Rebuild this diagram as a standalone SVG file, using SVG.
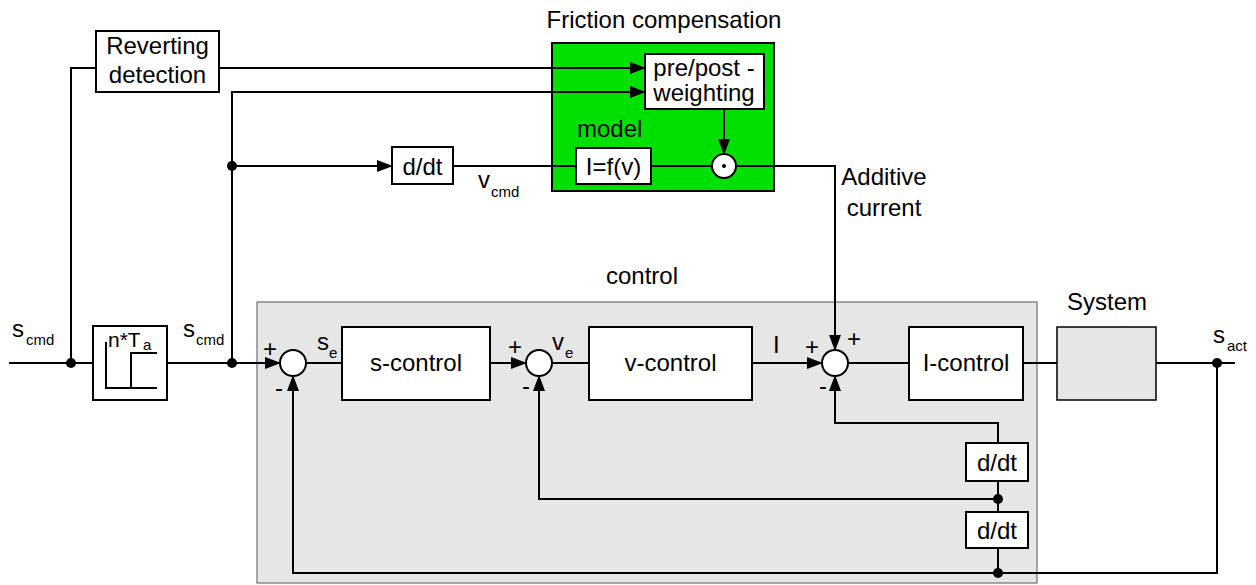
<svg xmlns="http://www.w3.org/2000/svg" width="1256" height="585" viewBox="0 0 1256 585">
<defs>
<marker id="arr" markerWidth="16" markerHeight="12" refX="15" refY="6" orient="auto" markerUnits="userSpaceOnUse"><path d="M0,0 L16,6 L0,12 z" fill="#000"/></marker>
<style>
text{font-family:"Liberation Sans",Arial,sans-serif;font-size:24px;fill:#000}
.sub{font-size:15px}
.c{text-anchor:middle}
.box{fill:#fff;stroke:#000;stroke-width:2}
.sum{fill:#fff;stroke:#000;stroke-width:2}
.ln{fill:none;stroke:#000;stroke-width:2}
.dot{fill:#000}
</style>
</defs>
<rect width="1256" height="585" fill="#fff"/>

<g id="control-area">
<rect x="257" y="302" width="780" height="281" fill="#e6e6e6" stroke="#6f6f6f" stroke-width="1.2"/>
<text x="642" y="284" class="c">control</text>
</g>

<g id="friction-compensation">
<rect x="552" y="43" width="222" height="148" fill="#00e000" stroke="#000" stroke-width="2"/>
<text x="664" y="28" class="c">Friction compensation</text>
<text x="577" y="137">model</text>
</g>

<g id="connectors">
<path class="ln" d="M9,363 H93"/>
<path class="ln" d="M167,363 H280" marker-end="url(#arr)"/>
<path class="ln" d="M306,363 H342"/>
<path class="ln" d="M490,363 H526" marker-end="url(#arr)"/>
<path class="ln" d="M552,363 H589"/>
<path class="ln" d="M752,363 H822" marker-end="url(#arr)"/>
<path class="ln" d="M848,363 H909"/>
<path class="ln" d="M1023,363 H1057"/>
<path class="ln" d="M1156,363 H1235"/>
<path class="ln" d="M1217,363 V573 H293 V376" marker-end="url(#arr)"/>
<path class="ln" d="M998,573 V548"/>
<path class="ln" d="M998,512 V481"/>
<path class="ln" d="M998,499 H539 V376" marker-end="url(#arr)"/>
<path class="ln" d="M998,443 V423 H835 V376" marker-end="url(#arr)"/>
<path class="ln" d="M71,363 V68 H96"/>
<path class="ln" d="M219,68 H645" marker-end="url(#arr)"/>
<path class="ln" d="M232,363 V92 H645" marker-end="url(#arr)"/>
<path class="ln" d="M232,166 H392" marker-end="url(#arr)"/>
<path class="ln" d="M453,166 H576"/>
<path class="ln" d="M651,166 H712"/>
<path class="ln" d="M724,109 V154" marker-end="url(#arr)"/>
<path class="ln" d="M736,166 H835 V350" marker-end="url(#arr)"/>
<circle class="dot" cx="71" cy="363" r="5"/>
<circle class="dot" cx="232" cy="363" r="5"/>
<circle class="dot" cx="232" cy="166" r="5"/>
<circle class="dot" cx="1217" cy="363" r="5"/>
<circle class="dot" cx="998" cy="573" r="5"/>
<circle class="dot" cx="998" cy="499" r="5"/>
</g>

<g id="reverting-detection">
<rect class="box" x="96" y="31" width="123" height="61"/>
<text x="157.5" y="54" class="c">Reverting</text>
<text x="157.5" y="83" class="c">detection</text>
</g>

<g id="pre-post-weighting">
<rect class="box" x="645" y="54" width="119" height="55"/>
<text x="704" y="76" class="c">pre/post -</text>
<text x="704" y="101" class="c">weighting</text>
</g>

<g id="model-ifv">
<rect class="box" x="576" y="148" width="75" height="36"/>
<text x="613.5" y="175" class="c">I=f(v)</text>
</g>

<g id="multiply">
<circle class="sum" cx="724" cy="166" r="12"/>
<circle class="dot" cx="724" cy="166" r="2"/>
</g>

<g id="ddt-cmd">
<rect class="box" x="392" y="147" width="61" height="37"/>
<text x="422.5" y="175" class="c">d/dt</text>
</g>

<g id="labels">
<text x="478" y="188">v</text><text x="491" y="197" class="sub">cmd</text>
<text x="884" y="185" class="c">Additive</text>
<text x="884" y="216" class="c">current</text>
<text x="12" y="337">s</text><text x="26" y="345" class="sub">cmd</text>
<text x="183" y="337">s</text><text x="196" y="345" class="sub">cmd</text>
<text x="1213" y="343">s</text><text x="1227" y="351" class="sub">act</text>
<text x="317" y="350">s</text><text x="329" y="358" class="sub">e</text>
<text x="552" y="350">v</text><text x="565" y="358" class="sub">e</text>
<text x="773" y="353">I</text>
<text x="270" y="357" class="c">+</text>
<text x="279" y="396" class="c">-</text>
<text x="515" y="355" class="c">+</text>
<text x="526" y="394" class="c">-</text>
<text x="812" y="355" class="c">+</text>
<text x="854" y="347" class="c">+</text>
<text x="823" y="394" class="c">-</text>
<text x="1107" y="310" class="c">System</text>
</g>

<g id="delay">
<rect class="box" x="93" y="326" width="74" height="74"/>
<path class="ln" d="M106,342 V388 H157 M131,388 V353 H157"/>
<text x="108" y="347" style="font-size:21px">n*T</text><text x="143" y="350" class="sub">a</text>
</g>

<g id="sum1"><circle class="sum" cx="293" cy="363" r="13"/></g>
<g id="s-control">
<rect class="box" x="342" y="327" width="148" height="73"/>
<text x="416" y="371" class="c">s-control</text>
</g>
<g id="sum2"><circle class="sum" cx="539" cy="363" r="13"/></g>
<g id="v-control">
<rect class="box" x="589" y="327" width="163" height="73"/>
<text x="670.5" y="371" class="c">v-control</text>
</g>
<g id="sum3"><circle class="sum" cx="835" cy="363" r="13"/></g>
<g id="i-control">
<rect class="box" x="909" y="327" width="114" height="73"/>
<text x="966" y="371" class="c">I-control</text>
</g>
<g id="system">
<rect x="1057" y="327" width="99" height="73" fill="#e6e6e6" stroke="#000" stroke-width="1.5"/>
</g>
<g id="ddt-1">
<rect class="box" x="966" y="443" width="62" height="38"/>
<text x="997" y="471" class="c">d/dt</text>
</g>
<g id="ddt-2">
<rect class="box" x="966" y="512" width="62" height="36"/>
<text x="997" y="539" class="c">d/dt</text>
</g>
</svg>
